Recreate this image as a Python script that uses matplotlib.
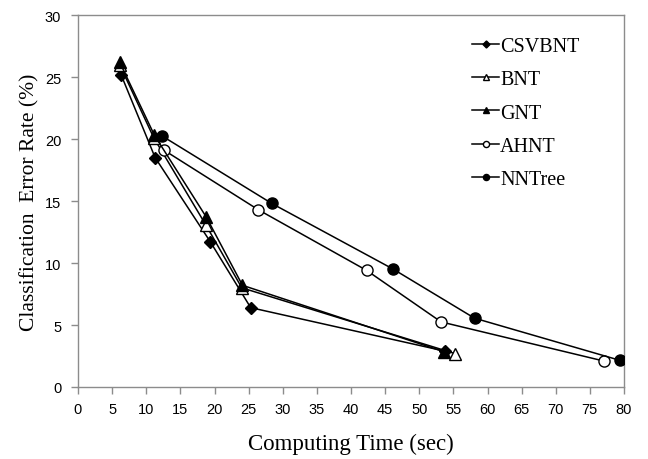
import matplotlib
matplotlib.use("Agg")
import matplotlib.pyplot as plt

# --- data ---
csvbnt_x = [6.3, 11.3, 19.4, 25.3, 53.7]
csvbnt_y = [25.2, 18.5, 11.7, 6.4, 2.9]
bnt_x = [6.1, 11.1, 18.7, 24.0, 55.2]
bnt_y = [26.0, 20.1, 13.1, 8.0, 2.7]
gnt_x = [6.1, 11.2, 18.8, 24.1, 53.6]
gnt_y = [26.2, 20.3, 13.7, 8.2, 2.85]
ahnt_x = [12.6, 26.4, 42.3, 53.2, 77.0]
ahnt_y = [19.1, 14.3, 9.4, 5.25, 2.1]
nntree_x = [12.3, 28.4, 46.2, 58.1, 79.4]
nntree_y = [20.25, 14.8, 9.5, 5.55, 2.15]

x_ticks = list(range(0, 81, 5))
y_ticks = list(range(0, 31, 5))

SERIF = "Liberation Serif"
SANS = "Liberation Sans"
GRID_GREY = "#8c8c8c"

fig = plt.figure(figsize=(6.48, 4.60), dpi=100)
ax = fig.add_axes([78 / 648, 1 - 388 / 460, (624 - 78) / 648, (388 - 16) / 460])

style = dict(color="black", linewidth=1.1, markersize=8)
ax.plot(csvbnt_x, csvbnt_y, marker="D", markersize=6.5, color="black",
        linewidth=1.1, label="CSVBNT", zorder=3)
ax.plot(bnt_x, bnt_y, marker="^", markerfacecolor="white", label="BNT", zorder=3, **style)
ax.plot(gnt_x, gnt_y, marker="^", label="GNT", zorder=4, **style)
ax.plot(ahnt_x, ahnt_y, marker="o", markerfacecolor="white", label="AHNT", zorder=3, **style)
ax.plot(nntree_x, nntree_y, marker="o", label="NNTree", zorder=3, **style)

ax.set_xlim(0, 80)
ax.set_ylim(0, 30)
ax.set_xticks(x_ticks)
ax.set_yticks(y_ticks)

for s in ax.spines.values():
    s.set_color(GRID_GREY)
    s.set_linewidth(1.0)
ax.tick_params(axis="both", direction="out", length=5, width=1.0, color=GRID_GREY,
               labelsize=10.5)
ax.tick_params(axis="y", pad=7)
ax.tick_params(axis="x", pad=6)
for lbl in ax.get_xticklabels() + ax.get_yticklabels():
    lbl.set_fontfamily(SANS)

ax.set_xlabel("Computing Time (sec)", fontsize=16.5, fontfamily=SERIF, labelpad=12)
ax.set_ylabel("Classification  Error Rate (%)", fontsize=15.5, fontfamily=SERIF, labelpad=4)

leg = ax.legend(loc="upper left", bbox_to_anchor=(464 / 648, 1 - 30 / 460),
                bbox_transform=fig.transFigure, frameon=False, markerscale=0.55,
                handlelength=1.35, handletextpad=0.05, labelspacing=0.7,
                prop={"family": SERIF, "size": 14.5}, borderaxespad=0)

fig.savefig("out.png", dpi=100)
